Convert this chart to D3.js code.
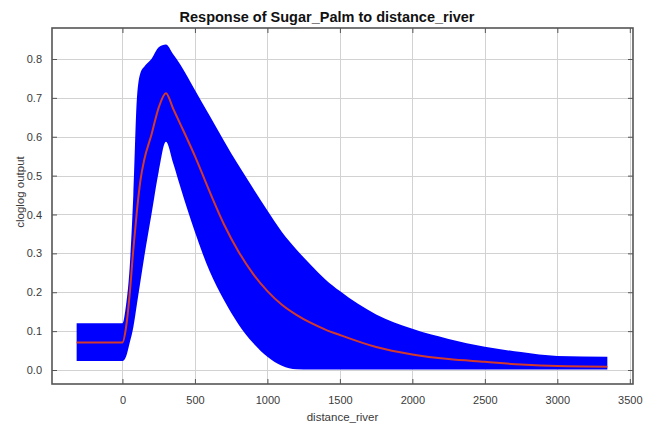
<!DOCTYPE html>
<html>
<head>
<meta charset="utf-8">
<script src="https://cdn.jsdelivr.net/npm/d3@7"></script>
<style>
  html, body { margin: 0; padding: 0; background: #fff; }
  svg { display: block; font-family: "Liberation Sans", Arial, sans-serif; }
</style>
</head>
<body>
<svg id="chart" width="654" height="428"></svg>
<script>
// ---- data ----
const distance = [-316, 0, 25, 50, 75, 100, 125, 150, 200, 250, 300, 350, 400, 500, 600, 700, 800, 900, 1000, 1100, 1200, 1300, 1400, 1500, 1750, 2000, 2250, 2500, 2750, 3000, 3345];
const meanResponse = [0.071, 0.071, 0.11, 0.195, 0.31, 0.41, 0.49, 0.54, 0.605, 0.675, 0.712, 0.672, 0.632, 0.55, 0.46, 0.375, 0.305, 0.248, 0.203, 0.168, 0.142, 0.121, 0.104, 0.09, 0.059, 0.04, 0.028, 0.021, 0.014, 0.01, 0.0086];
const upperResponse = [0.12, 0.12, 0.168, 0.265, 0.45, 0.70, 0.765, 0.78, 0.80, 0.83, 0.837, 0.812, 0.785, 0.72, 0.655, 0.59, 0.527, 0.468, 0.41, 0.355, 0.31, 0.27, 0.233, 0.203, 0.143, 0.106, 0.08, 0.06, 0.046, 0.036, 0.034];
const lowerResponse = [0.023, 0.023, 0.035, 0.07, 0.11, 0.17, 0.23, 0.29, 0.40, 0.51, 0.587, 0.532, 0.47, 0.355, 0.255, 0.18, 0.118, 0.07, 0.034, 0.011, 0.002, 0.001, 0.001, 0.001, 0.001, 0.001, 0.001, 0.001, 0.001, 0.001, 0.001];
const xTicks = [0, 500, 1000, 1500, 2000, 2500, 3000, 3500];
const yTicks = [0.0, 0.1, 0.2, 0.3, 0.4, 0.5, 0.6, 0.7, 0.8];
const titleText = "Response of Sugar_Palm to distance_river";
const xLabel = "distance_river";
const yLabel = "cloglog output";

// ---- layout ----
const svg = d3.select("#chart");
const L = 52, R = 633, T = 28, B = 384;

const x = d3.scaleLinear().domain([-486, 3522]).range([L, R]);
const y = d3.scaleLinear().domain([-0.0360, 0.8797]).range([B, T]);

const pts = distance.map((d, i) => ({ x: d, m: meanResponse[i], hi: upperResponse[i], lo: lowerResponse[i] }));

// gridlines
const grid = svg.append("g").attr("stroke", "#d2d2d2").attr("stroke-width", 1);
grid.selectAll("line.vx").data(xTicks).join("line")
  .attr("x1", d => Math.round(x(d)) + 0.5).attr("x2", d => Math.round(x(d)) + 0.5)
  .attr("y1", T).attr("y2", B);
grid.selectAll("line.hy").data(yTicks).join("line")
  .attr("y1", d => Math.round(y(d)) + 0.5).attr("y2", d => Math.round(y(d)) + 0.5)
  .attr("x1", L).attr("x2", R);

// band
const area = d3.area()
  .x(d => x(d.x)).y0(d => y(d.lo)).y1(d => y(d.hi))
  .curve(d3.curveMonotoneX);
svg.append("path").datum(pts).attr("d", area).attr("fill", "#0000ff");

// mean line
const line = d3.line().x(d => x(d.x)).y(d => y(d.m)).curve(d3.curveMonotoneX);
svg.append("path").datum(pts).attr("d", line)
  .attr("fill", "none").attr("stroke", "#d23a2c").attr("stroke-width", 2);

// axes (ticks inward)
const axColor = "#555";
function styleAxis(g) {
  g.select(".domain").remove();
  g.selectAll(".tick line").attr("stroke", axColor);
  g.selectAll(".tick text").attr("fill", "#3a3a3a").attr("font-size", 11);
}
svg.append("g").attr("transform", `translate(0,${B})`)
  .call(d3.axisBottom(x).tickValues(xTicks).tickFormat(d3.format("d")).tickSize(-5).tickPadding(12))
  .call(styleAxis);
svg.append("g").attr("transform", `translate(0,${T})`)
  .call(d3.axisTop(x).tickValues(xTicks).tickFormat("").tickSize(-5))
  .call(styleAxis);
svg.append("g").attr("transform", `translate(${L},0)`)
  .call(d3.axisLeft(y).tickValues(yTicks).tickFormat(d3.format(".1f")).tickSize(-5).tickPadding(10))
  .call(styleAxis);
svg.append("g").attr("transform", `translate(${R},0)`)
  .call(d3.axisRight(y).tickValues(yTicks).tickFormat("").tickSize(-5))
  .call(styleAxis);

// frame
svg.append("rect").attr("x", L).attr("y", T).attr("width", R - L).attr("height", B - T)
  .attr("fill", "none").attr("stroke", axColor).attr("stroke-width", 1.6);

// texts
svg.append("text").attr("x", 327).attr("y", 22).attr("text-anchor", "middle")
  .attr("font-size", 14.5).attr("font-weight", "bold").attr("fill", "#111").text(titleText);
svg.append("text").attr("x", (L + R) / 2).attr("y", 421).attr("text-anchor", "middle")
  .attr("font-size", 11.5).attr("fill", "#3a3a3a").text(xLabel);
svg.append("text").attr("transform", `translate(24,${192}) rotate(-90)`).attr("text-anchor", "middle")
  .attr("font-size", 11.5).attr("fill", "#3a3a3a").text(yLabel);
</script>
</body>
</html>
